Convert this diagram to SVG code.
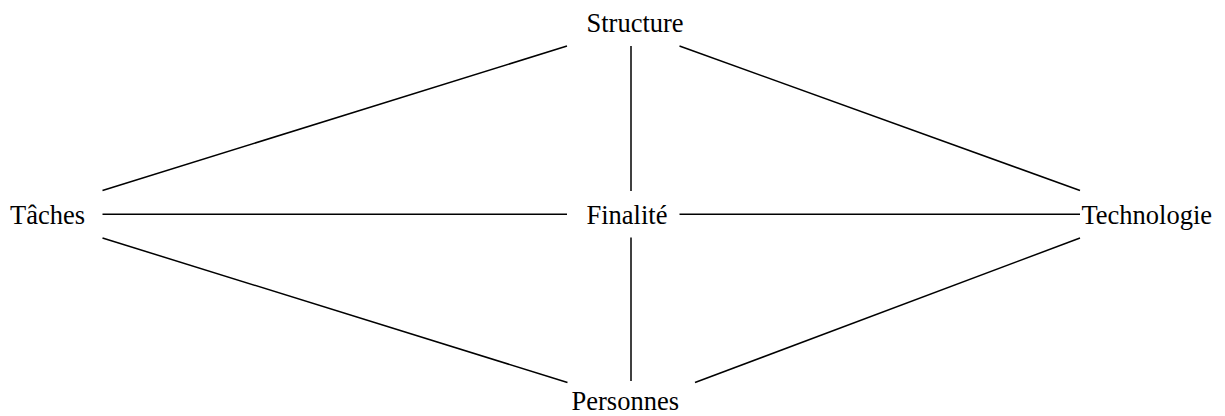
<svg xmlns="http://www.w3.org/2000/svg" width="1225" height="416" viewBox="0 0 1225 416">
  <style>
    .lbl { font-family: "Liberation Serif", "Times New Roman", serif; font-size: 26.5px; fill: #000; }
    .edge { stroke: #000; stroke-width: 1.5; fill: none; stroke-linecap: butt; }
  </style>
  <rect width="1225" height="416" fill="#fff"/>
  <g id="connectors">
    <line class="edge" x1="631" y1="46" x2="631" y2="191"/>
    <line class="edge" x1="631" y1="237.5" x2="631" y2="381"/>
    <line class="edge" x1="567" y1="46" x2="102.5" y2="190.5"/>
    <line class="edge" x1="679.5" y1="46" x2="1080" y2="190.5"/>
    <line class="edge" x1="102.5" y1="214.3" x2="567" y2="214.3"/>
    <line class="edge" x1="679.5" y1="214.3" x2="1080" y2="214.3"/>
    <line class="edge" x1="102.5" y1="238" x2="567.5" y2="382.5"/>
    <line class="edge" x1="695" y1="382.5" x2="1080" y2="238"/>
  </g>
  <g id="structure"><text class="lbl" x="586.5" y="32">Structure</text></g>
  <g id="taches"><text class="lbl" x="10" y="224">Tâches</text></g>
  <g id="finalite"><text class="lbl" x="586.5" y="224">Finalité</text></g>
  <g id="technologie"><text class="lbl" x="1081.5" y="224">Technologie</text></g>
  <g id="personnes"><text class="lbl" x="571.5" y="410">Personnes</text></g>
</svg>
